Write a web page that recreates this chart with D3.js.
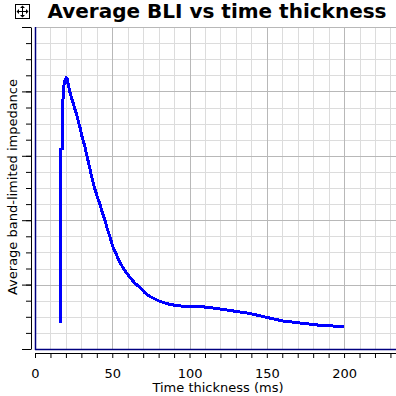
<!DOCTYPE html>
<html>
<head>
<meta charset="utf-8">
<script src="https://cdn.jsdelivr.net/npm/d3@7"></script>
<style>
  body { margin: 0; background: #fff; }
  svg { display: block; font-family: "DejaVu Sans", sans-serif; }
</style>
</head>
<body>
<svg width="396" height="396"></svg>
<script>
// time thickness (ms) and average BLI (arbitrary units, axis is unlabelled)
var times = [16.5, 16.5, 16.8, 16.8, 17.5, 17.5, 18.1, 18.4, 19.1, 20.1, 20.7, 21.4, 22.7, 23.9,
	25.9, 27.2, 29.1, 30.4, 32.4, 33.7, 35.6, 36.9, 38.8, 40.1, 42.1, 43.4, 45.3, 46.6, 48.5,
	50.5, 52.4, 55.0, 58.3, 61.5, 64.7, 68.0, 71.2, 74.4, 80.9, 87.4, 93.9,
	106.8, 117.8, 126.2, 139.2, 150.2, 160.5, 171.5, 182.5, 192.9, 200];
var bli = [0.40, 1.42, 1.42, 3.10, 3.11, 3.77, 3.87, 4.03, 4.15, 4.21, 4.20, 4.12, 3.98, 3.88,
	3.72, 3.62, 3.44, 3.30, 3.13, 2.99, 2.79, 2.65, 2.48, 2.38, 2.24, 2.13, 2.00, 1.88, 1.74,
	1.58, 1.48, 1.34, 1.21, 1.11, 1.02, 0.955, 0.87, 0.815, 0.738, 0.691, 0.668,
	0.660, 0.629, 0.598, 0.551, 0.489, 0.435, 0.404, 0.373, 0.357, 0.349];
var xMajor = [0, 50, 100, 150, 200];

var svg = d3.select("svg");

var x = d3.scaleLinear().domain([0, 233.6]).range([35, 396]);
var y = d3.scaleLinear().domain([0, 5]).range([349, 27]);

var xMinor = d3.range(0, 234, 10);
var yMinor = d3.range(0, 5.01, 0.25);
var yMajor = d3.range(0, 6, 1);

//gridlines, light ones first
var grid = svg.append("g").attr("shape-rendering", "crispEdges");
grid.selectAll(".vmin").data(xMinor).enter().append("line")
	.attr("x1", function(d) { return x(d) + 0.5; }).attr("x2", function(d) { return x(d) + 0.5; })
	.attr("y1", y(5) + 0.5).attr("y2", y(0) + 0.5)
	.attr("stroke", "#dcdcdc");
grid.selectAll(".hmin").data(yMinor).enter().append("line")
	.attr("y1", function(d) { return y(d) + 0.5; }).attr("y2", function(d) { return y(d) + 0.5; })
	.attr("x1", 35).attr("x2", 396)
	.attr("stroke", "#dcdcdc");
grid.selectAll(".vmaj").data(xMajor).enter().append("line")
	.attr("x1", function(d) { return x(d) + 0.5; }).attr("x2", function(d) { return x(d) + 0.5; })
	.attr("y1", y(5) + 0.5).attr("y2", y(0) + 0.5)
	.attr("stroke", "#b8b8b8");
grid.selectAll(".hmaj").data(yMajor).enter().append("line")
	.attr("y1", function(d) { return y(d) + 0.5; }).attr("y2", function(d) { return y(d) + 0.5; })
	.attr("x1", 35).attr("x2", 396)
	.attr("stroke", "#b8b8b8");

//plot border
svg.append("line").attr("x1", 35.5).attr("x2", 35.5).attr("y1", y(5)).attr("y2", y(0) + 1)
	.attr("stroke", "#000080").attr("stroke-width", 1.5);
svg.append("line").attr("x1", 35).attr("x2", 396).attr("y1", y(0) + 0.5).attr("y2", y(0) + 0.5)
	.attr("stroke", "#000080").attr("stroke-width", 1.5);

//the curve
var line = d3.line()
	.x(function(d) { return x(d[0]); })
	.y(function(d) { return y(d[1]); });
svg.append("path")
	.datum(d3.zip(times, bli))
	.attr("d", line)
	.attr("fill", "none")
	.attr("stroke", "#0000ff")
	.attr("stroke-width", 3)
	.attr("shape-rendering", "crispEdges");

//x axis
var xAxis = svg.append("g")
	.attr("transform", "translate(0,353)")
	.call(d3.axisBottom(x).tickValues(xMinor).tickSize(5).tickSizeOuter(0).tickPadding(11)
		.tickFormat(function(d) { return d % 50 === 0 ? d : ""; }));
xAxis.selectAll("text").attr("font-size", 13).attr("font-family", "DejaVu Sans").attr("fill", "#000");

//y axis, no labels
svg.append("g")
	.attr("transform", "translate(31,0)")
	.call(d3.axisLeft(y).tickValues(yMinor).tickSize(5).tickSizeOuter(0).tickFormat(""));
svg.append("g")
	.attr("transform", "translate(31,0)")
	.call(d3.axisLeft(y).tickValues(yMajor).tickSize(9).tickSizeOuter(0).tickFormat(""))
	.select(".domain").remove();

//titles
svg.append("text")
	.attr("x", 217).attr("y", 18)
	.attr("text-anchor", "middle")
	.attr("font-size", 20).attr("font-weight", "bold")
	.text("Average BLI vs time thickness");
svg.append("text")
	.attr("x", 218).attr("y", 392)
	.attr("text-anchor", "middle")
	.attr("font-size", 13)
	.text("Time thickness (ms)");
svg.append("text")
	.attr("transform", "translate(17,187) rotate(-90)")
	.attr("text-anchor", "middle")
	.attr("font-size", 13)
	.text("Average band-limited impedance");

//move icon
var icon = svg.append("g").attr("transform", "translate(22.5,11.5)")
	.attr("stroke", "#000").attr("fill", "none");
icon.append("rect").attr("x", -7).attr("y", -7).attr("width", 14).attr("height", 14);
icon.append("path").attr("d", "M-5,0H5M0,-5V5");
icon.append("path").attr("fill", "#000").attr("stroke", "none")
	.attr("d", "M0,-6L-2.5,-3.5H2.5Z M0,6L-2.5,3.5H2.5Z M-6,0L-3.5,-2.5V2.5Z M6,0L3.5,-2.5V2.5Z");
</script>
</body>
</html>
